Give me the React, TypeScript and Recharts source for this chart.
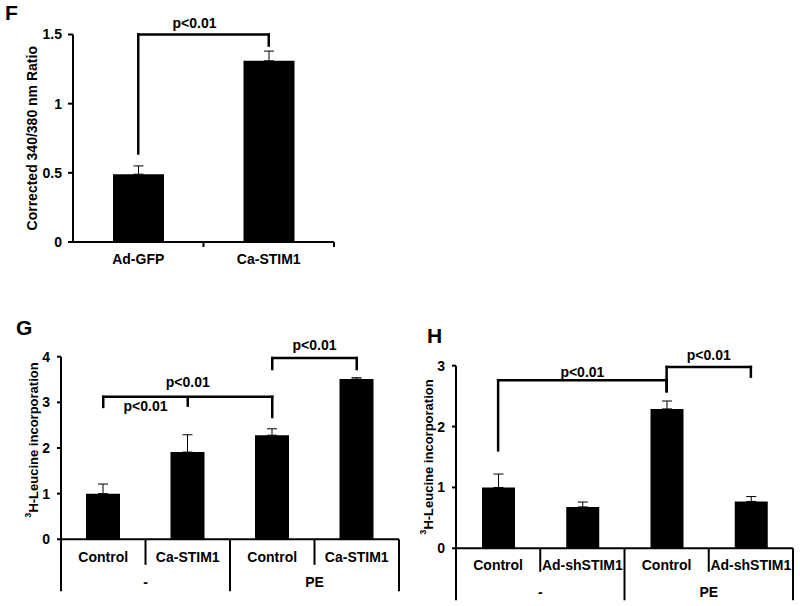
import { Bar, BarChart, ErrorBar, ReferenceLine, XAxis, YAxis } from "recharts";

const FONT = "'Liberation Sans', Arial, Helvetica, sans-serif";

// Panel F
const fCategories = ["Ad-GFP", "Ca-STIM1"];
const fValues = [0.49, 1.31];
const fErrors = [0.06, 0.07];
const fTicks = [0, 0.5, 1, 1.5];

// Panel G
const gCategories = ["Control", "Ca-STIM1", "Control", "Ca-STIM1"];
const gGroups = ["-", "-", "PE", "PE"];
const gValues = [1.0, 1.91, 2.28, 3.51];
const gErrors = [0.21, 0.38, 0.14, 0.03];
const gTicks = [0, 1, 2, 3, 4];

// Panel H
const hCategories = ["Control", "Ad-shSTIM1", "Control", "Ad-shSTIM1"];
const hGroups = ["-", "-", "PE", "PE"];
const hValues = [1.0, 0.68, 2.29, 0.77];
const hErrors = [0.22, 0.08, 0.13, 0.08];
const hTicks = [0, 1, 2, 3];

// significance brackets (bar indices, bracket level, where each leg stops)
const fBrackets = [{ from: 0, to: 1, top: 1.5, fromEnd: 0.64, toEnd: 1.42 }];
const gBrackets = [
  { from: 0, to: 2, top: 3.12, fromEnd: 2.9, toEnd: 2.68 },
  { from: 2, to: 3, top: 3.97, fromEnd: 3.73, toEnd: 3.73 },
];
const gMidTicks = [{ at: 1, top: 3.12, end: 2.9 }];
const hBrackets = [
  { from: 0, to: 2, top: 2.76, fromEnd: 1.61, toEnd: 2.58 },
  { from: 2, to: 3, top: 2.98, fromEnd: 2.58, toEnd: 2.82 },
];

// p-value labels (span between bars, level)
const fPLabels = [{ from: 0, to: 1, y: 1.5, text: "p<0.01" }];
const gPLabels = [
  { from: 0, to: 2, y: 3.12, text: "p<0.01" },
  { from: 0, to: 1, y: 3.12, text: "p<0.01" },
  { from: 2, to: 3, y: 3.97, text: "p<0.01" },
];
const hPLabels = [
  { from: 0, to: 2, y: 2.76, text: "p<0.01" },
  { from: 2, to: 3, y: 2.98, text: "p<0.01" },
];

const keysOf = (cats: string[], groups?: string[]) =>
  cats.map((c, i) => (groups ? `${c}|${groups[i]}` : c));

const build = (keys: string[], values: number[], errors: number[]) =>
  keys.map((k, i) => ({ key: k, value: values[i], err: [0, errors[i]] }));

const fKeys = keysOf(fCategories);
const gKeys = keysOf(gCategories, gGroups);
const hKeys = keysOf(hCategories, hGroups);
const fData = build(fKeys, fValues, fErrors);
const gData = build(gKeys, gValues, gErrors);
const hData = build(hKeys, hValues, hErrors);

const axisStroke = { stroke: "#000", strokeWidth: 2 };
const yTick = { fill: "#000", fontSize: 14, fontWeight: 700, fontFamily: FONT };

function bracket(keys: string[], b: any, id: string) {
  const a = keys[b.from];
  const c = keys[b.to];
  const common: any = {
    stroke: "#000",
    strokeWidth: 2.5,
    strokeLinecap: "square",
    ifOverflow: "visible",
  };
  return [
    <ReferenceLine key={id + "h"} segment={[{ x: a, y: b.top }, { x: c, y: b.top }]} {...common} />,
    <ReferenceLine key={id + "l"} segment={[{ x: a, y: b.top }, { x: a, y: b.fromEnd }]} {...common} />,
    <ReferenceLine key={id + "r"} segment={[{ x: c, y: b.top }, { x: c, y: b.toEnd }]} {...common} />,
  ];
}

const pText = (text: string, dy: number, dx = 0) => (props: any) => {
  const vb = props.viewBox || {};
  return (
    <text
      x={vb.x + (vb.width || 0) / 2 + dx}
      y={vb.y + dy}
      textAnchor="middle"
      fill="#000"
      fontSize={14}
      fontWeight={700}
      fontFamily={FONT}
    >
      {text}
    </text>
  );
};

function pLabel(keys: string[], l: any, id: string, dy: number, dx = 0) {
  return (
    <ReferenceLine
      key={id}
      segment={[
        { x: keys[l.from], y: l.y },
        { x: keys[l.to], y: l.y },
      ]}
      stroke="none"
      ifOverflow="visible"
      label={pText(l.text, dy, dx)}
    />
  );
}

const axisTitle = (cxOff: number, shift: number, sup: boolean, text: string) => (props: any) => {
  const vb = props.viewBox || {};
  const cx = vb.x + cxOff;
  const cy = vb.y + vb.height / 2 + shift;
  return (
    <text
      x={cx}
      y={cy}
      transform={`rotate(-90, ${cx}, ${cy})`}
      textAnchor="middle"
      dominantBaseline="central"
      fill="#000"
      fontSize={sup ? 13 : 14}
      fontWeight={700}
      fontFamily={FONT}
    >
      {sup ? (
        <>
          <tspan fontSize={9} dy={-5}>
            3
          </tspan>
          <tspan dy={5}>{text}</tspan>
        </>
      ) : (
        text
      )}
    </text>
  );
};

function SimpleTick(props: any) {
  const { x, y, payload, index, labels, half } = props;
  const h = payload && payload.offset ? payload.offset : half;
  return (
    <g>
      <line x1={x + h} x2={x + h} y1={y} y2={y + 5} stroke="#000" strokeWidth={2} />
      <text x={x} y={y + 22} textAnchor="middle" fill="#000" fontSize={14} fontWeight={700} fontFamily={FONT}>
        {labels[index]}
      </text>
    </g>
  );
}

function GroupTick(props: any) {
  const { x, y, payload, index, labels, groups, half, shortLen, longLen, row1, row2 } = props;
  const h = payload && payload.offset ? payload.offset : half;
  const n = labels.length;
  const startsGroup = index === 0 || groups[index] !== groups[index - 1];
  return (
    <g>
      <line
        x1={x - h}
        x2={x - h}
        y1={y}
        y2={y + (startsGroup ? longLen : shortLen)}
        stroke="#000"
        strokeWidth={2}
      />
      {index === n - 1 && (
        <line x1={x + h} x2={x + h} y1={y} y2={y + longLen} stroke="#000" strokeWidth={2} />
      )}
      <text x={x} y={y + row1} textAnchor="middle" fill="#000" fontSize={14} fontWeight={700} fontFamily={FONT}>
        {labels[index]}
      </text>
      {startsGroup && (
        <text
          x={x + h}
          y={y + row2}
          textAnchor="middle"
          fill="#000"
          fontSize={14}
          fontWeight={700}
          fontFamily={FONT}
        >
          {groups[index]}
        </text>
      )}
    </g>
  );
}

const panelLetter = (left: number, top: number): any => ({
  position: "absolute",
  left,
  top,
  fontSize: 21,
  lineHeight: "20px",
  fontWeight: 700,
  fontFamily: FONT,
  color: "#000",
});

export default function App() {
  return (
    <div
      style={{
        position: "absolute",
        left: 0,
        top: 0,
        width: 800,
        height: 606,
        background: "#fff",
        fontFamily: FONT,
        overflow: "hidden",
      }}
    >
      <div style={panelLetter(5, 3)}>F</div>
      <div style={panelLetter(16, 318)}>G</div>
      <div style={panelLetter(427, 326)}>H</div>

      {/* F */}
      <div style={{ position: "absolute", left: 0, top: 0 }}>
        <BarChart
          width={400}
          height={300}
          data={fData}
          margin={{ top: 34.5, right: 66, bottom: 28, left: 0 }}
          barSize={51}
        >
          <XAxis
            dataKey="key"
            height={30}
            interval={0}
            tickLine={false}
            tickSize={0}
            tickMargin={0}
            axisLine={axisStroke}
            tick={(p: any) => <SimpleTick {...p} labels={fCategories} half={65.25} />}
          />
          <YAxis
            width={73}
            domain={[0, 1.5]}
            ticks={fTicks}
            interval={0}
            tickSize={5}
            tickMargin={6}
            axisLine={axisStroke}
            tickLine={axisStroke}
            tick={yTick}
            label={{ content: axisTitle(32, 0, false, "Corrected 340/380 nm Ratio") }}
          />
          <Bar dataKey="value" fill="#000" isAnimationActive={false}>
            <ErrorBar dataKey="err" width={5} stroke="#000" strokeWidth={1} direction="y" />
          </Bar>
          {fBrackets.map((b, i) => bracket(fKeys, b, "fb" + i))}
          {pLabel(fKeys, fPLabels[0], "fp0", -7, -9)}
        </BarChart>
      </div>

      {/* G */}
      <div style={{ position: "absolute", left: 0, top: 300 }}>
        <BarChart
          width={400}
          height={306}
          data={gData}
          margin={{ top: 56.7, right: 1, bottom: 6.7, left: 0 }}
          barSize={34}
        >
          <XAxis
            dataKey="key"
            height={60}
            interval={0}
            tickLine={false}
            tickSize={0}
            tickMargin={0}
            axisLine={axisStroke}
            tick={(p: any) => (
              <GroupTick
                {...p}
                labels={gCategories}
                groups={gGroups}
                half={42.25}
                shortLen={25.5}
                longLen={52}
                row1={23}
                row2={48}
              />
            )}
          />
          <YAxis
            width={61}
            domain={[0, 4]}
            ticks={gTicks}
            interval={0}
            tickSize={4}
            tickMargin={7}
            axisLine={axisStroke}
            tickLine={axisStroke}
            tick={yTick}
            label={{ content: axisTitle(33, -8, true, "H-Leucine incorporation") }}
          />
          <Bar dataKey="value" fill="#000" isAnimationActive={false}>
            <ErrorBar dataKey="err" width={5} stroke="#000" strokeWidth={1} direction="y" />
          </Bar>
          {gBrackets.map((b, i) => bracket(gKeys, b, "gb" + i))}
          {gMidTicks.map((t, i) => (
            <ReferenceLine
              key={"gm" + i}
              segment={[
                { x: gKeys[t.at], y: t.top },
                { x: gKeys[t.at], y: t.end },
              ]}
              stroke="#000"
              strokeWidth={2.5}
              ifOverflow="visible"
            />
          ))}
          {pLabel(gKeys, gPLabels[0], "gp0", -10)}
          {pLabel(gKeys, gPLabels[1], "gp1", 14)}
          {pLabel(gKeys, gPLabels[2], "gp2", -8)}
        </BarChart>
      </div>

      {/* H */}
      <div style={{ position: "absolute", left: 400, top: 300 }}>
        <BarChart
          width={400}
          height={306}
          data={hData}
          margin={{ top: 65.7, right: 7, bottom: 2.7, left: 0 }}
          barSize={33}
        >
          <XAxis
            dataKey="key"
            height={55}
            interval={0}
            tickLine={false}
            tickSize={0}
            tickMargin={0}
            axisLine={axisStroke}
            tick={(p: any) => (
              <GroupTick
                {...p}
                labels={hCategories}
                groups={hGroups}
                half={42.25}
                shortLen={23.5}
                longLen={52}
                row1={22}
                row2={49}
              />
            )}
          />
          <YAxis
            width={56}
            domain={[0, 3]}
            ticks={hTicks}
            interval={0}
            tickSize={4}
            tickMargin={7}
            axisLine={axisStroke}
            tickLine={axisStroke}
            tick={yTick}
            label={{ content: axisTitle(28, 0, true, "H-Leucine incorporation") }}
          />
          <Bar dataKey="value" fill="#000" isAnimationActive={false}>
            <ErrorBar dataKey="err" width={5} stroke="#000" strokeWidth={1} direction="y" />
          </Bar>
          {hBrackets.map((b, i) => bracket(hKeys, b, "hb" + i))}
          {pLabel(hKeys, hPLabels[0], "hp0", -3)}
          {pLabel(hKeys, hPLabels[1], "hp1", -7)}
        </BarChart>
      </div>
    </div>
  );
}
